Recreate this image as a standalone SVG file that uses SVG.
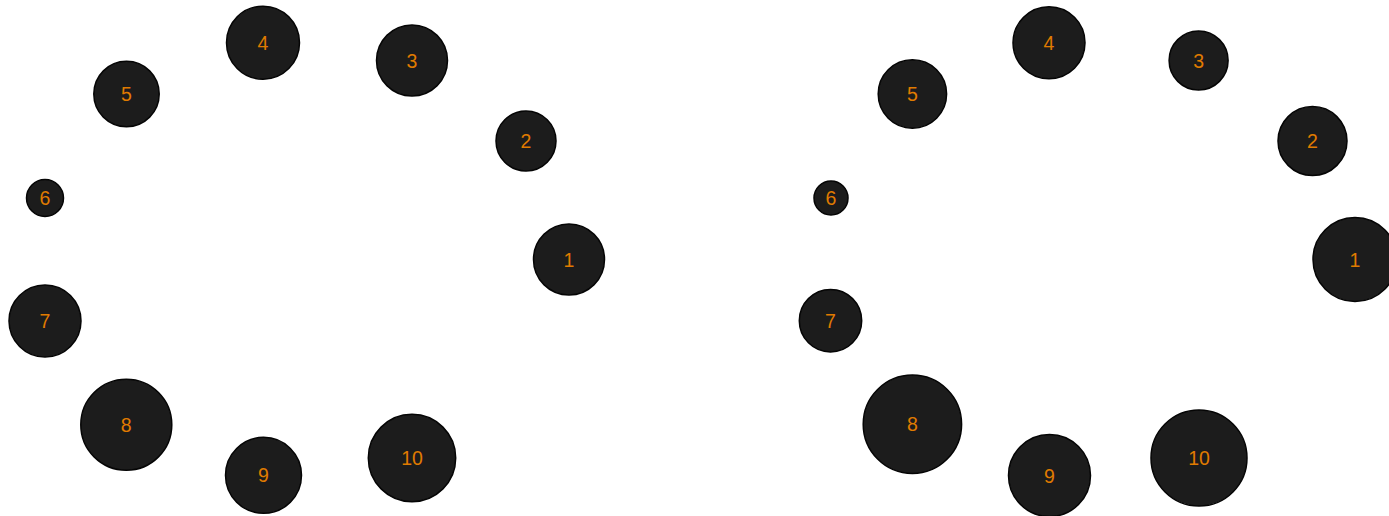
<svg xmlns="http://www.w3.org/2000/svg" width="1389" height="516" viewBox="0 0 1389 516">
<style>
.n circle{fill:#1c1c1c;stroke:#050505;stroke-width:1.5}
.n text{fill:#e07b00;font-family:"Liberation Sans",Arial,sans-serif;font-size:19.5px;text-anchor:middle;dominant-baseline:central}
</style>
<rect width="1389" height="516" fill="#fff"/>
<g id="connectors"/>
<g id="left">
<g id="L1" class="n"><circle cx="569" cy="259.5" r="35.5"/><text x="569" y="259.5">1</text></g>
<g id="L2" class="n"><circle cx="526" cy="141" r="30"/><text x="526" y="141">2</text></g>
<g id="L3" class="n"><circle cx="412" cy="60.5" r="35.5"/><text x="412" y="60.5">3</text></g>
<g id="L4" class="n"><circle cx="263" cy="42.7" r="36.5"/><text x="263" y="42.7">4</text></g>
<g id="L5" class="n"><circle cx="126.5" cy="94" r="32.7"/><text x="126.5" y="94">5</text></g>
<g id="L6" class="n"><circle cx="45" cy="198" r="18.5"/><text x="45" y="198">6</text></g>
<g id="L7" class="n"><circle cx="45" cy="321" r="36"/><text x="45" y="321">7</text></g>
<g id="L8" class="n"><circle cx="126.3" cy="424.7" r="45.5"/><text x="126.3" y="424.7">8</text></g>
<g id="L9" class="n"><circle cx="263.5" cy="475.3" r="38"/><text x="263.5" y="475.3">9</text></g>
<g id="L10" class="n"><circle cx="412" cy="458" r="43.7"/><text x="412" y="458">10</text></g>
</g>
<g id="right">
<g id="R1" class="n"><circle cx="1355" cy="259.5" r="42"/><text x="1355" y="259.5">1</text></g>
<g id="R2" class="n"><circle cx="1312.5" cy="141" r="34.5"/><text x="1312.5" y="141">2</text></g>
<g id="R3" class="n"><circle cx="1198.6" cy="60.5" r="29.5"/><text x="1198.6" y="60.5">3</text></g>
<g id="R4" class="n"><circle cx="1049" cy="42.8" r="36"/><text x="1049" y="42.8">4</text></g>
<g id="R5" class="n"><circle cx="912.4" cy="94" r="34.2"/><text x="912.4" y="94">5</text></g>
<g id="R6" class="n"><circle cx="831" cy="198" r="17"/><text x="831" y="198">6</text></g>
<g id="R7" class="n"><circle cx="830.5" cy="320.7" r="31.2"/><text x="830.5" y="320.7">7</text></g>
<g id="R8" class="n"><circle cx="912.4" cy="424.3" r="49.2"/><text x="912.4" y="424.3">8</text></g>
<g id="R9" class="n"><circle cx="1049.5" cy="475.5" r="41"/><text x="1049.5" y="475.5">9</text></g>
<g id="R10" class="n"><circle cx="1199" cy="458" r="48"/><text x="1199" y="458">10</text></g>
</g>
</svg>
